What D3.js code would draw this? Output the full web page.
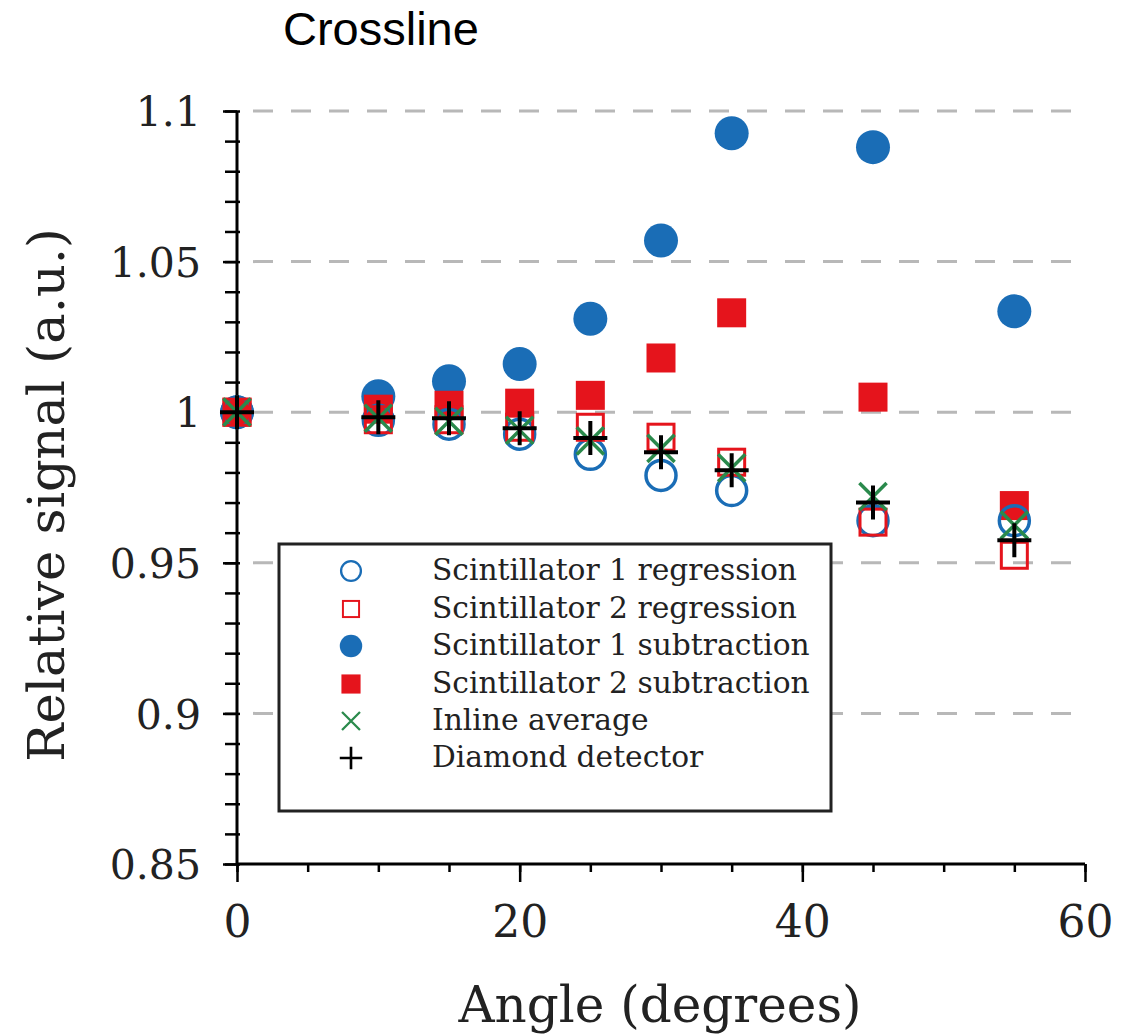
<!DOCTYPE html>
<html><head><meta charset="utf-8">
<script src="https://cdn.jsdelivr.net/npm/d3@7"></script>
<style>body{margin:0;background:#fff}svg{display:block}</style>
</head><body>
<script>
const angles = [0, 10, 15, 20, 25, 30, 35, 45, 55];
const scint1Regression = [1.000, 0.9973, 0.9960, 0.9927, 0.9860, 0.9790, 0.9740, 0.9640, 0.9640];
const scint2Regression = [1.000, 0.9975, 0.9975, 0.9950, 0.9950, 0.9917, 0.9834, 0.9635, 0.9525];
const scint1Subtraction = [1.000, 1.0053, 1.0103, 1.0160, 1.0310, 1.0570, 1.0926, 1.0880, 1.0335];
const scint2Subtraction = [1.000, 1.0010, 1.0023, 1.0030, 1.0056, 1.0180, 1.0330, 1.0050, 0.9690];
const inlineAverage = [1.000, 0.9980, 0.9970, 0.9940, 0.9905, 0.9880, 0.9815, 0.9720, 0.9625];
const diamondDetector = [1.000, 0.9983, 0.9980, 0.9947, 0.9914, 0.9867, 0.9807, 0.9700, 0.9575];
const yTicks = [0.85, 0.9, 0.95, 1, 1.05, 1.1];
const xTicks = [0, 20, 40, 60];
const seriesNames = ["Scintillator 1 regression","Scintillator 2 regression","Scintillator 1 subtraction","Scintillator 2 subtraction","Inline average","Diamond detector"];

const W = 1125, H = 1036;
const svg = d3.select("body").append("svg").attr("width", W).attr("height", H);
const x = d3.scaleLinear().domain([0, 60]).range([237, 1085]);
const y = d3.scaleLinear().domain([0.85, 1.1]).range([864, 111]);

const BLUE = "#1a6db6", RED = "#e5141c", GREEN = "#2a8a4c";
const serif = "'DejaVu Serif', serif";
const TXT = "#222";

// title
svg.append("text").attr("x", 283).attr("y", 45).attr("font-family", "'Liberation Sans', Arial, sans-serif")
  .attr("font-size", 47).attr("fill", "#000").text("Crossline");

// grid
svg.append("g").selectAll("line").data([0.9, 0.95, 1, 1.05, 1.1]).join("line")
  .attr("x1", x(0)).attr("x2", x(60)).attr("y1", d => y(d)).attr("y2", d => y(d))
  .attr("stroke", "#b8b8b8").attr("stroke-width", 3).attr("stroke-dasharray", "20,18").attr("stroke-dashoffset", -16);

// axes
const yAxisMinor = d3.axisLeft(y).tickValues(d3.range(0.85, 1.1001, 0.01)).tickSize(12).tickFormat("");
const gy = svg.append("g").attr("transform", `translate(${x(0)},0)`).call(yAxisMinor);
gy.selectAll(".tick line").attr("stroke", "#000").attr("stroke-width", 2.5).attr("x2", -12).attr("x1", 3);
const yAxis = d3.axisLeft(y).tickValues(yTicks).tickSize(14).tickPadding(22).tickFormat(d => d3.format("")(+d.toFixed(2)));
const gy2 = svg.append("g").attr("transform", `translate(${x(0)},0)`).call(yAxis);
gy2.selectAll(".tick line").attr("stroke", "#000").attr("stroke-width", 2.5);
gy2.selectAll("text").attr("font-family", serif).attr("font-size", 41).attr("fill", TXT).attr("dy", "0.36em");
gy2.select(".domain").remove();
gy.select(".domain").attr("stroke", "#000").attr("stroke-width", 3).attr("d", `M0,${y(0.85)}V${y(1.1)}`);

const xMinor = d3.axisBottom(x).tickValues(d3.range(0, 61, 5)).tickSize(8).tickFormat("");
const gx = svg.append("g").attr("transform", `translate(0,${y(0.85)})`).call(xMinor);
gx.selectAll(".tick line").attr("stroke", "#000").attr("stroke-width", 2.5);
gx.select(".domain").attr("stroke", "#000").attr("stroke-width", 3).attr("d", `M${x(0)},0H${x(60)}`);
const xAxis = d3.axisBottom(x).tickValues(xTicks).tickSize(18).tickPadding(24);
const gx2 = svg.append("g").attr("transform", `translate(0,${y(0.85)})`).call(xAxis);
gx2.select(".domain").remove();
gx2.selectAll(".tick line").attr("stroke", "#000").attr("stroke-width", 2.5);
gx2.selectAll("text").attr("font-family", serif).attr("font-size", 44).attr("fill", TXT);

// axis labels
svg.append("text").attr("x", 660).attr("y", 1022).attr("text-anchor", "middle").attr("font-family", serif)
  .attr("font-size", 50).attr("fill", TXT).text("Angle (degrees)");
svg.append("text").attr("transform", `translate(64,${495}) rotate(-90)`).attr("text-anchor", "middle").attr("font-family", serif)
  .attr("font-size", 51).attr("fill", TXT).text("Relative signal (a.u.)");

// markers
const R = 17, S = 29, P = 17;
function drawMarker(g, type, cx, cy, scale=1) {
  const r = R*scale, s = S*scale, p = P*scale;
  if (type === 0) g.append("circle").attr("cx", cx).attr("cy", cy).attr("r", r - 2*scale).attr("fill", "none").attr("stroke", BLUE).attr("stroke-width", 3.5*scale);
  else if (type === 1) g.append("rect").attr("x", cx - s/2 + 1.5).attr("y", cy - s/2 + 1.5).attr("width", s - 3).attr("height", s - 3).attr("fill", "none").attr("stroke", RED).attr("stroke-width", 3*scale);
  else if (type === 2) g.append("circle").attr("cx", cx).attr("cy", cy).attr("r", r).attr("fill", BLUE);
  else if (type === 3) g.append("rect").attr("x", cx - s/2).attr("y", cy - s/2).attr("width", s).attr("height", s).attr("fill", RED);
  else if (type === 4) g.append("path").attr("d", `M${cx-p*0.8},${cy-p*0.8}L${cx+p*0.8},${cy+p*0.8}M${cx-p*0.8},${cy+p*0.8}L${cx+p*0.8},${cy-p*0.8}`).attr("stroke", GREEN).attr("stroke-width", 3.5*scale);
  else if (type === 5) g.append("path").attr("d", `M${cx-p},${cy}H${cx+p}M${cx},${cy-p}V${cy+p}`).attr("stroke", "#000").attr("stroke-width", 4*scale);
}
const allSeries = [scint1Regression, scint2Regression, scint1Subtraction, scint2Subtraction, inlineAverage, diamondDetector];
const drawOrder = [2, 3, 0, 1, 4, 5];
const pg = svg.append("g");
drawOrder.forEach(si => {
  const vals = allSeries[si];
  const g = pg.append("g").attr("class", "series-" + si);
  angles.forEach((a, i) => drawMarker(g, si, x(a), y(vals[i])));
});

// legend
const lg = svg.append("g");
lg.append("rect").attr("x", 279).attr("y", 544).attr("width", 552).attr("height", 267)
  .attr("fill", "#fff").attr("stroke", "#222").attr("stroke-width", 3);
const rowY = [571, 609, 646, 684, 721, 758];
seriesNames.forEach((name, i) => {
  drawMarker(lg, i, 351, rowY[i], 0.66);
  lg.append("text").attr("x", 432).attr("y", rowY[i] + 9).attr("font-family", serif).attr("font-size", 29.7)
    .attr("fill", TXT).text(name);
});
</script>
</body></html>
